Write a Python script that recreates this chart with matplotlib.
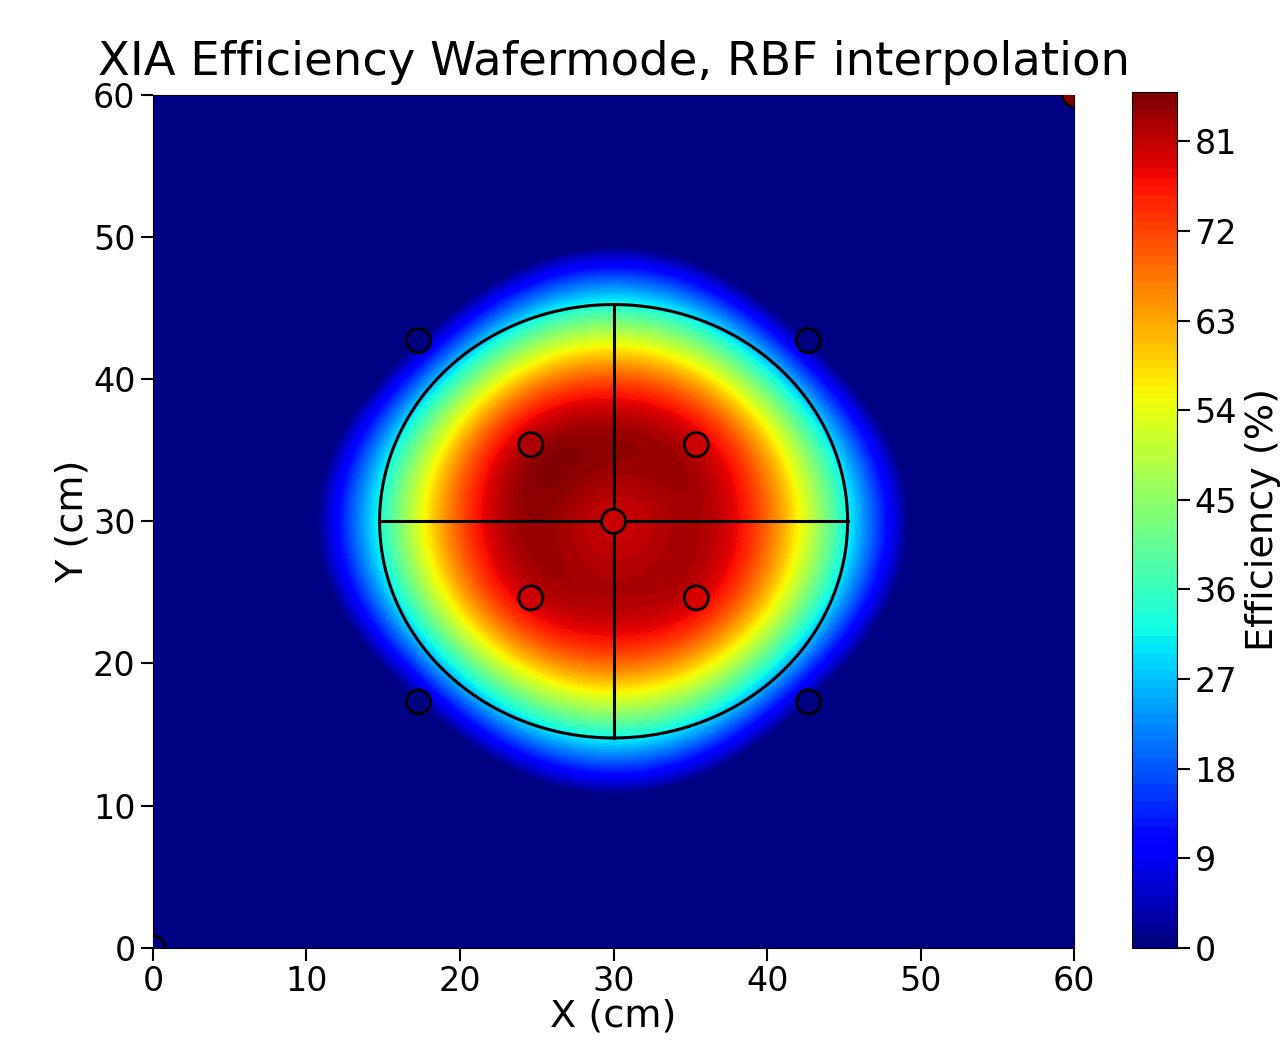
import numpy as np
import matplotlib
matplotlib.use("Agg")
import matplotlib.pyplot as plt

# measurement positions (cm) and efficiency (%)
px = [30.0, 24.61, 35.39, 24.61, 35.39, 17.3, 42.7, 17.3, 42.7]
py = [30.0, 35.39, 35.39, 24.61, 24.61, 42.7, 42.7, 17.3, 17.3]
eff = [80.5, 82.5, 80.5, 80.0, 79.5, 0.0, 0.0, 0.0, 0.0]

# corner reference points drawn with the markers
corner_x = [0.0, 60.0]
corner_y = [0.0, 60.0]
corner_eff = [0.0, 86.0]

wafer_r = 15.24
vmax = 86.0


def rbf_multiquadric(xs, ys, vals, gx, gy):
    xs = np.asarray(xs); ys = np.asarray(ys); vals = np.asarray(vals)
    n = len(xs)
    eps = ((xs.max() - xs.min()) * (ys.max() - ys.min()) / n) ** 0.5
    d = np.hypot(xs[:, None] - xs[None, :], ys[:, None] - ys[None, :])
    A = np.sqrt((d / eps) ** 2 + 1)
    w = np.linalg.solve(A, vals)
    dg = np.hypot(gx[..., None] - xs, gy[..., None] - ys)
    return (np.sqrt((dg / eps) ** 2 + 1) * w).sum(axis=-1)


gx, gy = np.meshgrid(np.linspace(0, 60, 400), np.linspace(0, 60, 400))
z = rbf_multiquadric(px, py, eff, gx, gy)
z = np.clip(z, 0, vmax)

fig = plt.figure(figsize=(12.85, 10.52), dpi=100)
ax = fig.add_axes([0.119, 0.099, 0.717, 0.811])
cax = fig.add_axes([0.881, 0.099, 0.035, 0.814])

levels = np.linspace(0, vmax, 100)
cf = ax.contourf(gx, gy, z, levels=levels, cmap='jet', vmin=0, vmax=vmax)

all_x = px + corner_x
all_y = py + corner_y
all_e = eff + corner_eff
ax.scatter(all_x, all_y, c=all_e, cmap='jet', vmin=0, vmax=vmax, s=300,
           edgecolors='black', linewidths=2, zorder=3, clip_on=True)

t = np.linspace(0, 2 * np.pi, 400)
ax.plot(30 + wafer_r * np.cos(t), 30 + wafer_r * np.sin(t), color='black', lw=2.2)
ax.plot([30 - wafer_r, 30 + wafer_r], [30, 30], color='black', lw=2.2)
ax.plot([30, 30], [30 - wafer_r, 30 + wafer_r], color='black', lw=2.2)

ax.set_xlim(0, 60)
ax.set_ylim(0, 60)
ax.set_xticks(range(0, 61, 10))
ax.set_yticks(range(0, 61, 10))
ax.tick_params(labelsize=24, length=9, width=1.5)
ax.set_xlabel('X (cm)', fontsize=27.5, labelpad=0)
ax.set_ylabel('Y (cm)', fontsize=27.5, labelpad=2)
ax.set_title('XIA Efficiency Wafermode, RBF interpolation', fontsize=33.5, pad=14)

cb = fig.colorbar(cf, cax=cax, ticks=range(0, 82, 9))
cb.ax.tick_params(labelsize=24, length=9, width=1.5)
cb.set_label('Efficiency (%)', fontsize=27.5, labelpad=6)

fig.savefig('out.png', dpi=100)
